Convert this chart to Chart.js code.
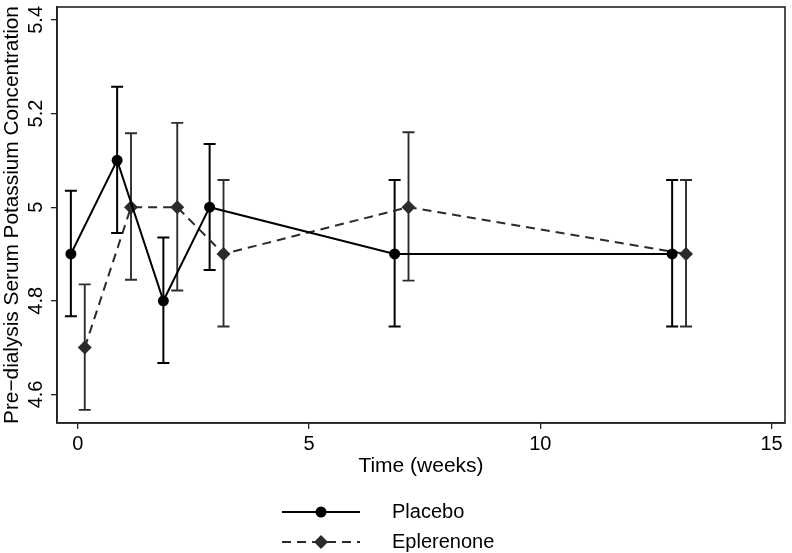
<!DOCTYPE html>
<html>
<head>
<meta charset="utf-8">
<script src="https://cdn.jsdelivr.net/npm/chart.js@4/dist/chart.umd.min.js"></script>
<style>
  body { margin: 0; background: #fff; }
  #wrap { width: 792px; height: 553px; }
</style>
</head>
<body>
<div id="wrap"><canvas id="potassiumChart" width="792" height="553"></canvas></div>
<script>
// weeks of measurement; the two groups are dodged a little left/right
const weeks = [0, 1, 2, 3, 7, 13];
const dodge = 0.15;

const placeboMean = [4.9, 5.1, 4.8, 5.0, 4.9, 4.9];
const placeboLow  = [4.767, 4.945, 4.667, 4.866, 4.745, 4.745];
const placeboHigh = [5.035, 5.257, 4.935, 5.135, 5.058, 5.058];

const epleMean = [4.7, 5.0, 5.0, 4.9, 5.0, 4.9];
const epleLow  = [4.567, 4.845, 4.822, 4.745, 4.843, 4.745];
const epleHigh = [4.835, 5.158, 5.180, 5.058, 5.160, 5.058];

const xTicks = [0, 5, 10, 15];
const yTicks = [4.6, 4.8, 5.0, 5.2, 5.4];
const yTickLabels = ['4.6', '4.8', '5', '5.2', '5.4'];

const FONT = '"Liberation Sans", Arial, sans-serif';

function toPoints(offset, means) {
    return weeks.map((w, i) => ({ x: w + offset, y: means[i] }));
}

// error bars, y-axis labels, frame and the legend
const extrasPlugin = {
    id: 'extras',
    beforeDatasetsDraw(chart) {
        const ctx = chart.ctx;
        const xs = chart.scales.x, ys = chart.scales.y;
        const groups = [
            { off: -dodge, lo: placeboLow, hi: placeboHigh, color: '#000', width: 2 },
            { off: dodge, lo: epleLow, hi: epleHigh, color: '#2e2e2e', width: 1.9 }
        ];
        ctx.save();
        groups.forEach(g => {
            ctx.strokeStyle = g.color;
            ctx.lineWidth = g.width;
            weeks.forEach((w, i) => {
                const px = xs.getPixelForValue(w + g.off);
                const y1 = ys.getPixelForValue(g.lo[i]);
                const y2 = ys.getPixelForValue(g.hi[i]);
                ctx.beginPath();
                ctx.moveTo(px, y1); ctx.lineTo(px, y2);
                ctx.moveTo(px - 6, y1); ctx.lineTo(px + 6, y1);
                ctx.moveTo(px - 6, y2); ctx.lineTo(px + 6, y2);
                ctx.stroke();
            });
        });
        ctx.restore();
    },
    afterDraw(chart) {
        const ctx = chart.ctx;
        const a = chart.chartArea;
        const ys = chart.scales.y;
        ctx.save();
        // frame
        ctx.strokeStyle = '#222';
        ctx.lineWidth = 1.6;
        ctx.strokeRect(a.left, a.top, a.right - a.left, a.bottom - a.top);

        // rotated y tick labels
        ctx.fillStyle = '#000';
        ctx.font = '20px ' + FONT;
        ctx.textAlign = 'center';
        ctx.textBaseline = 'middle';
        yTicks.forEach((v, i) => {
            ctx.save();
            ctx.translate(36, ys.getPixelForValue(v));
            ctx.rotate(-Math.PI / 2);
            ctx.fillText(yTickLabels[i], 0, 0);
            ctx.restore();
        });

        // legend
        const items = [
            { label: 'Placebo', y: 512, dash: [], color: '#000', marker: 'circle' },
            { label: 'Eplerenone', y: 542, dash: [9, 6], color: '#2b2b2b', marker: 'diamond' }
        ];
        items.forEach(it => {
            ctx.strokeStyle = it.color;
            ctx.lineWidth = 2;
            ctx.setLineDash(it.dash);
            ctx.beginPath();
            ctx.moveTo(282, it.y); ctx.lineTo(360, it.y);
            ctx.stroke();
            ctx.setLineDash([]);
            ctx.fillStyle = it.color;
            ctx.beginPath();
            if (it.marker === 'circle') {
                ctx.arc(321, it.y, 5.5, 0, Math.PI * 2);
            } else {
                ctx.moveTo(321, it.y - 7); ctx.lineTo(328, it.y);
                ctx.lineTo(321, it.y + 7); ctx.lineTo(314, it.y);
                ctx.closePath();
            }
            ctx.fill();
            ctx.fillStyle = '#000';
            ctx.font = '20px ' + FONT;
            ctx.textAlign = 'left';
            ctx.textBaseline = 'middle';
            ctx.fillText(it.label, 392, it.y);
        });
        ctx.restore();
    }
};

new Chart(document.getElementById('potassiumChart').getContext('2d'), {
    type: 'scatter',
    data: {
        datasets: [{
            label: 'Placebo',
            data: toPoints(-dodge, placeboMean),
            showLine: true,
            borderColor: '#000',
            backgroundColor: '#000',
            borderWidth: 2,
            pointStyle: 'circle',
            pointRadius: 5.5,
            pointBorderWidth: 0
        }, {
            label: 'Eplerenone',
            data: toPoints(dodge, epleMean),
            showLine: true,
            borderColor: '#2b2b2b',
            backgroundColor: '#2b2b2b',
            borderWidth: 2,
            borderDash: [9, 6],
            pointStyle: 'rectRot',
            pointRadius: 7,
            pointBorderWidth: 0
        }]
    },
    options: {
        responsive: false,
        animation: false,
        layout: { padding: { top: 3, right: 3, left: 0, bottom: 0 } },
        plugins: { legend: { display: false }, tooltip: { enabled: false } },
        scales: {
            x: {
                type: 'linear',
                min: -0.45,
                max: 15.29,
                afterBuildTicks: s => { s.ticks = xTicks.map(v => ({ value: v })); },
                afterFit: s => { s.height = 130; s.paddingLeft = 0; s.paddingRight = 0; },
                grid: { drawOnChartArea: false, drawTicks: true, tickLength: 6, color: '#222', lineWidth: 1.3 },
                border: { display: true, color: '#222', width: 1.6 },
                ticks: { color: '#000', font: { family: FONT, size: 20 }, padding: 3, maxRotation: 0 },
                title: {
                    display: true,
                    text: 'Time (weeks)',
                    color: '#000',
                    font: { family: FONT, size: 21 },
                    padding: { top: 0, bottom: 74 }
                }
            },
            y: {
                type: 'linear',
                min: 4.539,
                max: 5.4275,
                afterBuildTicks: s => { s.ticks = yTicks.map(v => ({ value: v })); },
                afterFit: s => { s.width = 57; s.paddingTop = 0; s.paddingBottom = 0; },
                grid: { drawOnChartArea: false, drawTicks: true, tickLength: 6, color: '#222', lineWidth: 1.3 },
                border: { display: true, color: '#222', width: 1.6 },
                ticks: { display: false },
                title: {
                    display: true,
                    text: 'Pre−dialysis Serum Potassium Concentration',
                    color: '#000',
                    font: { family: FONT, size: 20.8 },
                    padding: 0
                }
            }
        }
    },
    plugins: [extrasPlugin]
});
</script>
</body>
</html>
